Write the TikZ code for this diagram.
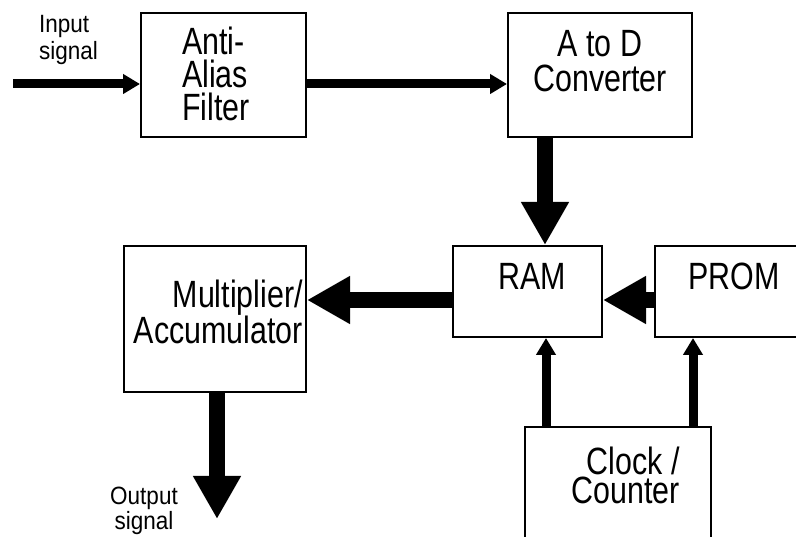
\documentclass[tikz,border=0pt]{standalone}
\usepackage{fontspec}
\newfontfamily\plotfont{Liberation Sans}[FakeStretch=0.8]
\newfontfamily\tagfont{Liberation Sans}[FakeStretch=0.9]
\usetikzlibrary{arrows.meta}
\usetikzlibrary{positioning}
\tikzset{
block/.style = { rectangle, draw = black, line width = 2pt, fill = white, inner sep = 0pt },
block label/.style = { inner sep = 0pt, font = \plotfont\fontsize{38}{34}\selectfont },
signal label/.style = { inner sep = 0pt, font = \tagfont\fontsize{25}{27}\selectfont },
wide bus/.style = { line width = 16pt, -{Triangle[length = 43pt, width = 45pt]} },
narrow bus/.style = { line width = 9pt, -{Triangle[length = 17pt, width = 19pt]} },
}

\begin{document}
\begin{tikzpicture}[x=1pt, y=-1pt]
    \useasboundingbox (0,0) rectangle (796,537);
    \clip (0,0) rectangle (796,537);
    \begin{scope}
      \node[block, minimum width = 165pt, minimum height = 124pt] (aaf) at (223.5,75) {};
      \node[block, minimum width = 184pt, minimum height = 124pt] (adc) at (600,75) {};
      \node[block, minimum width = 149pt, minimum height = 91pt] (ram) at (527.5,291.5) {};
      \node[block, minimum width = 152pt, minimum height = 91pt] (prom) at (731,291.5) {};
      \node[block, minimum width = 182pt, minimum height = 146pt] (mac) at (215,319) {};
      \node[block, minimum width = 186pt, minimum height = 120pt] (clk) at (618,487) {};
    \end{scope}
    \begin{scope}
      \node[block label, align = left, anchor = west, font = \plotfont\fontsize{38}{33}\selectfont] (aaf-t) at (182,74) {Anti-\\Alias\\Filter};
      \node[block label, align = center, font = \plotfont\fontsize{38}{35}\selectfont] (adc-t) at (600,61) {A to D\\Converter};
      \node[block label] (ram-t) at (532,276.5) {RAM};
      \node[block label, anchor = west] (prom-t) at (688,276.5) {PROM};
      \node[block label, align = right, anchor = east, font = \plotfont\fontsize{38}{35}\selectfont] (mac-t) at (303,312) {Multiplier/\\Accumulator};
      \node[block label, align = right, anchor = east, font = \plotfont\fontsize{38}{29}\selectfont] (clk-t) at (680,475) {Clock /\\Counter};
      \node[signal label, align = left, anchor = west] (in-t) at (39,40) {Input\\signal};
      \node[signal label, align = center, font = \tagfont\fontsize{25}{20}\selectfont] (out-t) at (144,511) {Output\\signal};
    \end{scope}
    \coordinate (in) at (13,84);
    \coordinate (bus) at (0,300);
    \coordinate (c0) at (545,0);
    \coordinate (c1) at (546,0);
    \coordinate (c2) at (693,0);
    \coordinate (out) at (217,519);
    \begin{scope}[every edge/.style = {draw = black}]
      \path[narrow bus] (in) edge (in -| aaf.west);
      \path[narrow bus] (in -| aaf.east) edge (in -| adc.west);
      \path[wide bus] (c0 |- adc.south) edge (c0 |- ram.north);
      \path[wide bus] (bus -| ram.west) edge (bus -| mac.east);
      \path[wide bus] (bus -| prom.west) edge (bus -| ram.east);
      \path[narrow bus] (c1 |- clk.north) edge (c1 |- ram.south);
      \path[narrow bus] (c2 |- clk.north) edge (c2 |- prom.south);
      \path[wide bus] (out |- mac.south) edge (out);
    \end{scope}
\end{tikzpicture}
\end{document}
